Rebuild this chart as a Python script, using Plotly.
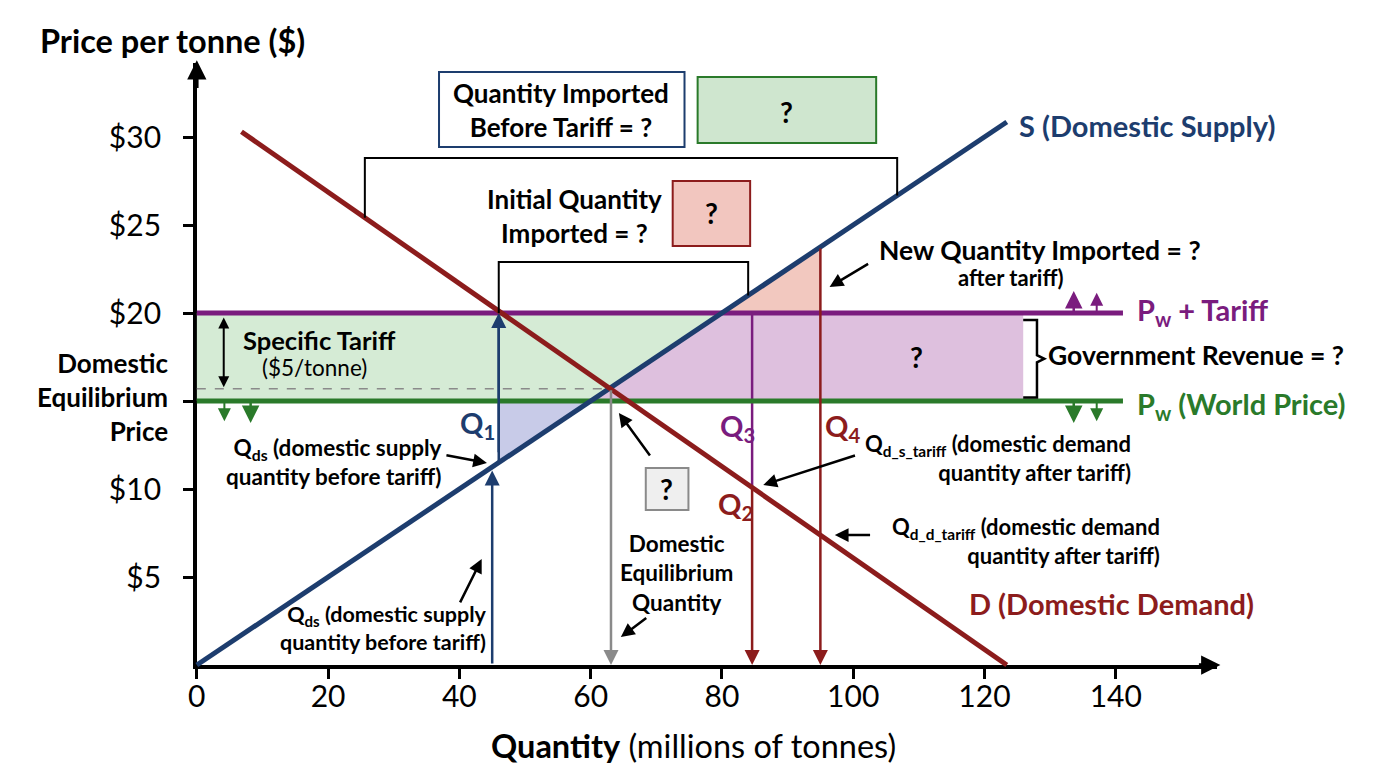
import plotly.graph_objects as go

# ---------------- data ----------------
quantity_ticks = [0, 20, 40, 60, 80, 100, 120, 140]
price_ticks = [5, 10, 15, 20, 25, 30]
price_tick_text = ["$5", "$10", "", "$20", "$25", "$30"]

supply_q = [0, 123.4]
supply_p = [0, 30.85]
demand_q = [6.8, 123.4]
demand_p = [30.3, 0]

world_price = 15
tariff = 5
price_with_tariff = world_price + tariff
domestic_eq_q = 63.1
domestic_eq_p = 15.7

q1 = 46.0
q_ds_before = 45.0
q3 = 84.6
q4 = 95.0
q_price_line_end = 141.1
revenue_right_q = 125.9

# ---------------- helpers ----------------
def lerp(q, xs, ys):
    return ys[0] + (ys[1] - ys[0]) * (q - xs[0]) / (xs[1] - xs[0])

def supply(q):
    return lerp(q, supply_q, supply_p)

def supply_inv(p):
    return lerp(p, supply_p, supply_q)

def demand(q):
    return lerp(q, demand_q, demand_p)

qs_world = supply_inv(world_price)
qs_tariff = supply_inv(price_with_tariff)

NAVY = "#1d3d6e"
RED = "#8c1c1c"
PURPLE = "#7a1c7e"
GREEN = "#2a7a2a"
FONT = "Lato"

fig = go.Figure()
XY2 = dict(xaxis="x2", yaxis="y2")

# dummy trace so the main axes exist
fig.add_trace(go.Scatter(x=[], y=[], showlegend=False, hoverinfo="skip"))

def poly(xs, ys, color):
    fig.add_trace(go.Scatter(x=xs, y=ys, fill="toself", fillcolor=color, mode="none",
                             showlegend=False, hoverinfo="skip", **XY2))

# shaded areas
poly([0, qs_world, qs_tariff, 0], [world_price, world_price, price_with_tariff, price_with_tariff], "rgba(190,224,190,0.65)")
poly([qs_world, revenue_right_q, revenue_right_q, qs_tariff],
     [world_price, world_price, price_with_tariff, price_with_tariff], "rgba(214,176,214,0.8)")
poly([q1, q1, qs_world], [world_price, supply(q1), world_price], "rgba(190,194,228,0.85)")
poly([qs_tariff, q4, q4], [price_with_tariff, price_with_tariff, supply(q4)], "rgba(240,190,180,0.85)")

def line(xs, ys, color, width, dash=None):
    fig.add_trace(go.Scatter(x=xs, y=ys, mode="lines", line=dict(color=color, width=width, dash=dash),
                             showlegend=False, hoverinfo="skip", **XY2))

line([0, domestic_eq_q], [domestic_eq_p, domestic_eq_p], "#8a8a8a", 1.5, "dash")
line([q3, q3], [price_with_tariff, demand(q3)], PURPLE, 2.5)
line([q1, q1], [supply(q1), price_with_tariff - 0.3], NAVY, 2.5)

line([0, q_price_line_end], [price_with_tariff, price_with_tariff], PURPLE, 5)
line([0, q_price_line_end], [world_price, world_price], GREEN, 5)

line(supply_q, supply_p, NAVY, 5)
line(demand_q, demand_p, RED, 5)

annotations = []
shapes = []

def arrow(q0, p0, q1_, p1_, color="black", width=2.5, size=1.1, head=2, both=False):
    annotations.append(dict(x=q1_, y=p1_, ax=q0, ay=p0, xref="x2", yref="y2", axref="x2", ayref="y2",
                            text="", showarrow=True, arrowhead=head, arrowsize=size, arrowwidth=width,
                            arrowcolor=color, arrowside="end+start" if both else "end",
                            startarrowhead=head, startarrowsize=size))

def label(text, q, p, size=20, color="black", bold=True, xanchor="center", align="center", yanchor="middle"):
    t = f"<b>{text}</b>" if bold else text
    annotations.append(dict(x=q, y=p, xref="x2", yref="y2", text=t, showarrow=False,
                            font=dict(family=FONT, size=size, color=color),
                            xanchor=xanchor, yanchor=yanchor, align=align))

def rect(q0, p0, q1_, p1_, line_color, fill, width=2):
    shapes.append(dict(type="rect", xref="x2", yref="y2", x0=q0, y0=p0, x1=q1_, y1=p1_,
                       line=dict(color=line_color, width=width), fillcolor=fill, layer="above"))

def path(d, color="black", width=2):
    shapes.append(dict(type="path", xref="x2", yref="y2", path=d, line=dict(color=color, width=width), layer="above"))

# vertical arrows to axis
arrow(q4, supply(q4), q4, 0, RED, 2.5, 1.2)
arrow(q3, demand(q3), q3, 0, RED, 2.5, 1.2)
arrow(domestic_eq_q, domestic_eq_p, domestic_eq_q, 0, "#8a8a8a", 2.5, 1.2)
arrow(q1, supply(q1) + 0.5, q1, price_with_tariff, NAVY, 2.5, 1.2)
arrow(q_ds_before, 0, q_ds_before, supply(q_ds_before) - 0.2, NAVY, 2.5, 1.2)

# small direction arrows
arrow(133.6, price_with_tariff, 133.6, 21.25, PURPLE, 2.5, 1.4)
arrow(137.1, price_with_tariff, 137.1, 21.15, PURPLE, 2.0, 1.3)
arrow(133.6, world_price, 133.6, 13.75, GREEN, 2.5, 1.4)
arrow(137.1, world_price, 137.1, 13.85, GREEN, 2.0, 1.3)
arrow(4.2, world_price, 4.2, 13.85, GREEN, 2.0, 1.3)
arrow(8.2, world_price, 8.2, 13.75, GREEN, 2.5, 1.4)

# specific tariff double arrow
arrow(4.1, domestic_eq_p, 4.1, price_with_tariff - 0.25, "black", 2, 1.1, both=True)

# pointer arrows
arrow(37.8, 11.93, 44.2, 11.48)
arrow(40.0, 3.47, 43.4, 6.02)
arrow(69.2, 11.82, 64.3, 14.32)
arrow(68.7, 2.73, 64.6, 1.59)
arrow(100.5, 11.93, 86.3, 10.23)
arrow(102.8, demand(q4), 97.2, demand(q4))
arrow(102.5, 22.84, 96.4, 21.48)

# boxes
rect(36.9, 29.43, 74.3, 33.69, NAVY, "white")
rect(76.3, 29.66, 103.5, 33.41, GREEN, "#cfe6cf")
rect(72.5, 23.81, 84.3, 27.5, RED, "#f2c6bf")
rect(68.4, 8.81, 74.9, 11.19, "#8a8a8a", "#efefef")

# brackets
path(f"M 25.6,{demand(25.6):.2f} L 25.6,28.81 L 106.7,28.81 L 106.7,{supply(106.7):.2f}")
path(f"M {q1},{price_with_tariff} L {q1},22.9 L 84.0,22.9 L 84.0,{supply(84.0):.2f}")
path("M 125.9,19.6 L 128.0,19.6 L 128.0,17.6 L 129.1,17.4 L 128.0,17.2 L 128.0,15.2 L 125.9,15.2", width=2.5)

# text labels
label("Price per tonne ($)", -3.78, 35.51, 32.5)
label("<b>Quantity</b> (millions of tonnes)", 75.7, -4.55, 32.5, bold=False)
label("S (Domestic Supply)", 124.9, 30.68, 29, NAVY, xanchor="left")
label("D (Domestic Demand)", 117.3, 3.47, 29, RED, xanchor="left")
label("P<sub>w</sub> + Tariff", 143.0, 20.1, 29, PURPLE, xanchor="left")
label("P<sub>w</sub> (World Price)", 143.0, 14.77, 29, GREEN, xanchor="left")
label("Government Revenue = ?", 129.3, 17.6, 26.5, xanchor="left")
label("?", 109.7, 17.5, 28)
label("Specific Tariff", 6.66, 18.47, 25.5, xanchor="left")
label("($5/tonne)", 18.0, 16.93, 22.5, bold=False)
label("Domestic<br>Equilibrium<br>Price", -3.94, 15.2, 26, xanchor="right", align="right")
label("Q<sub>1</sub>", 42.8, 13.64, 29, NAVY)
label("Q<sub>ds</sub> (domestic supply<br>quantity before tariff)", 37.7, 11.53, 22.5, xanchor="right", align="right")
label("Q<sub>ds</sub> (domestic supply<br>quantity before tariff)", 44.5, 2.1, 21.5, xanchor="right", align="right")
label("?", 71.6, 10.0, 28)
label("Domestic<br>Equilibrium<br>Quantity", 73.1, 5.23, 22.5)
label("Q<sub>3</sub>", 82.3, 13.47, 29, PURPLE)
label("Q<sub>4</sub>", 98.4, 13.47, 29, RED)
label("Q<sub>2</sub>", 82.0, 9.09, 29, RED)
label("Q<sub>d_s_tariff</sub> (domestic demand<br>quantity after tariff)", 142.6, 11.76, 22, xanchor="right", align="right")
label("Q<sub>d_d_tariff</sub> (domestic demand<br>quantity after tariff)", 147.1, 7.05, 22, xanchor="right", align="right")
label("New Quantity Imported = ?", 103.7, 23.58, 26.5, xanchor="left")
label("after tariff)", 124.1, 21.99, 22)
label("Quantity Imported<br>Before Tariff = ?", 55.5, 31.53, 26)
label("?", 89.9, 31.42, 28)
label("Initial Quantity<br>Imported = ?", 57.5, 25.51, 26)
label("?", 78.4, 25.68, 28)

# ---------------- axes ----------------
W, H = 1376, 768
# page has an 8px body margin, so figure pixels = page pixels - 8 (plus small measured correction)
X0_PX, X1_PX = 181, 1208
Y0_PX, Y1_PX = 657, 55
kx, ky = 6.607, 17.6
X_MAX = (X1_PX - X0_PX) / kx
Y_MAX = (Y0_PX - Y1_PX) / ky

# axis arrowheads
arrow(0, Y_MAX - 1.5, 0, Y_MAX + 0.15, "black", 3.5, 1.1)
arrow(X_MAX - 3, 0, X_MAX + 0.5, 0, "black", 3.5, 1.1)

axis_common = dict(showline=True, linecolor="black", linewidth=3.5, ticks="outside", ticklen=10,
                   tickwidth=3, tickcolor="black", showgrid=False, zeroline=False, fixedrange=True,
                   tickfont=dict(family=FONT, size=30, color="black"))

fig.update_layout(
    width=W, height=H,
    margin=dict(l=0, r=0, t=0, b=0, pad=0),
    paper_bgcolor="white", plot_bgcolor="rgba(0,0,0,0)",
    showlegend=False,
    xaxis=dict(domain=[X0_PX / W, X1_PX / W], range=[0, X_MAX], tickvals=quantity_ticks,
               ticktext=[str(v) for v in quantity_ticks], anchor="y", ticklabelstandoff=-8, **axis_common),
    yaxis=dict(domain=[(H - Y0_PX) / H, (H - Y1_PX) / H], range=[0, Y_MAX], tickvals=price_ticks,
               ticktext=price_tick_text, anchor="x", ticklabelstandoff=16, **axis_common),
    xaxis2=dict(domain=[0, 1], range=[-X0_PX / kx, (W - X0_PX) / kx], visible=False, anchor="y2", fixedrange=True),
    yaxis2=dict(domain=[0, 1], range=[-(H - Y0_PX) / ky, Y0_PX / ky], visible=False, anchor="x2", fixedrange=True),
    annotations=annotations,
    shapes=shapes,
    font=dict(family=FONT),
)

fig.write_html("out.html")
